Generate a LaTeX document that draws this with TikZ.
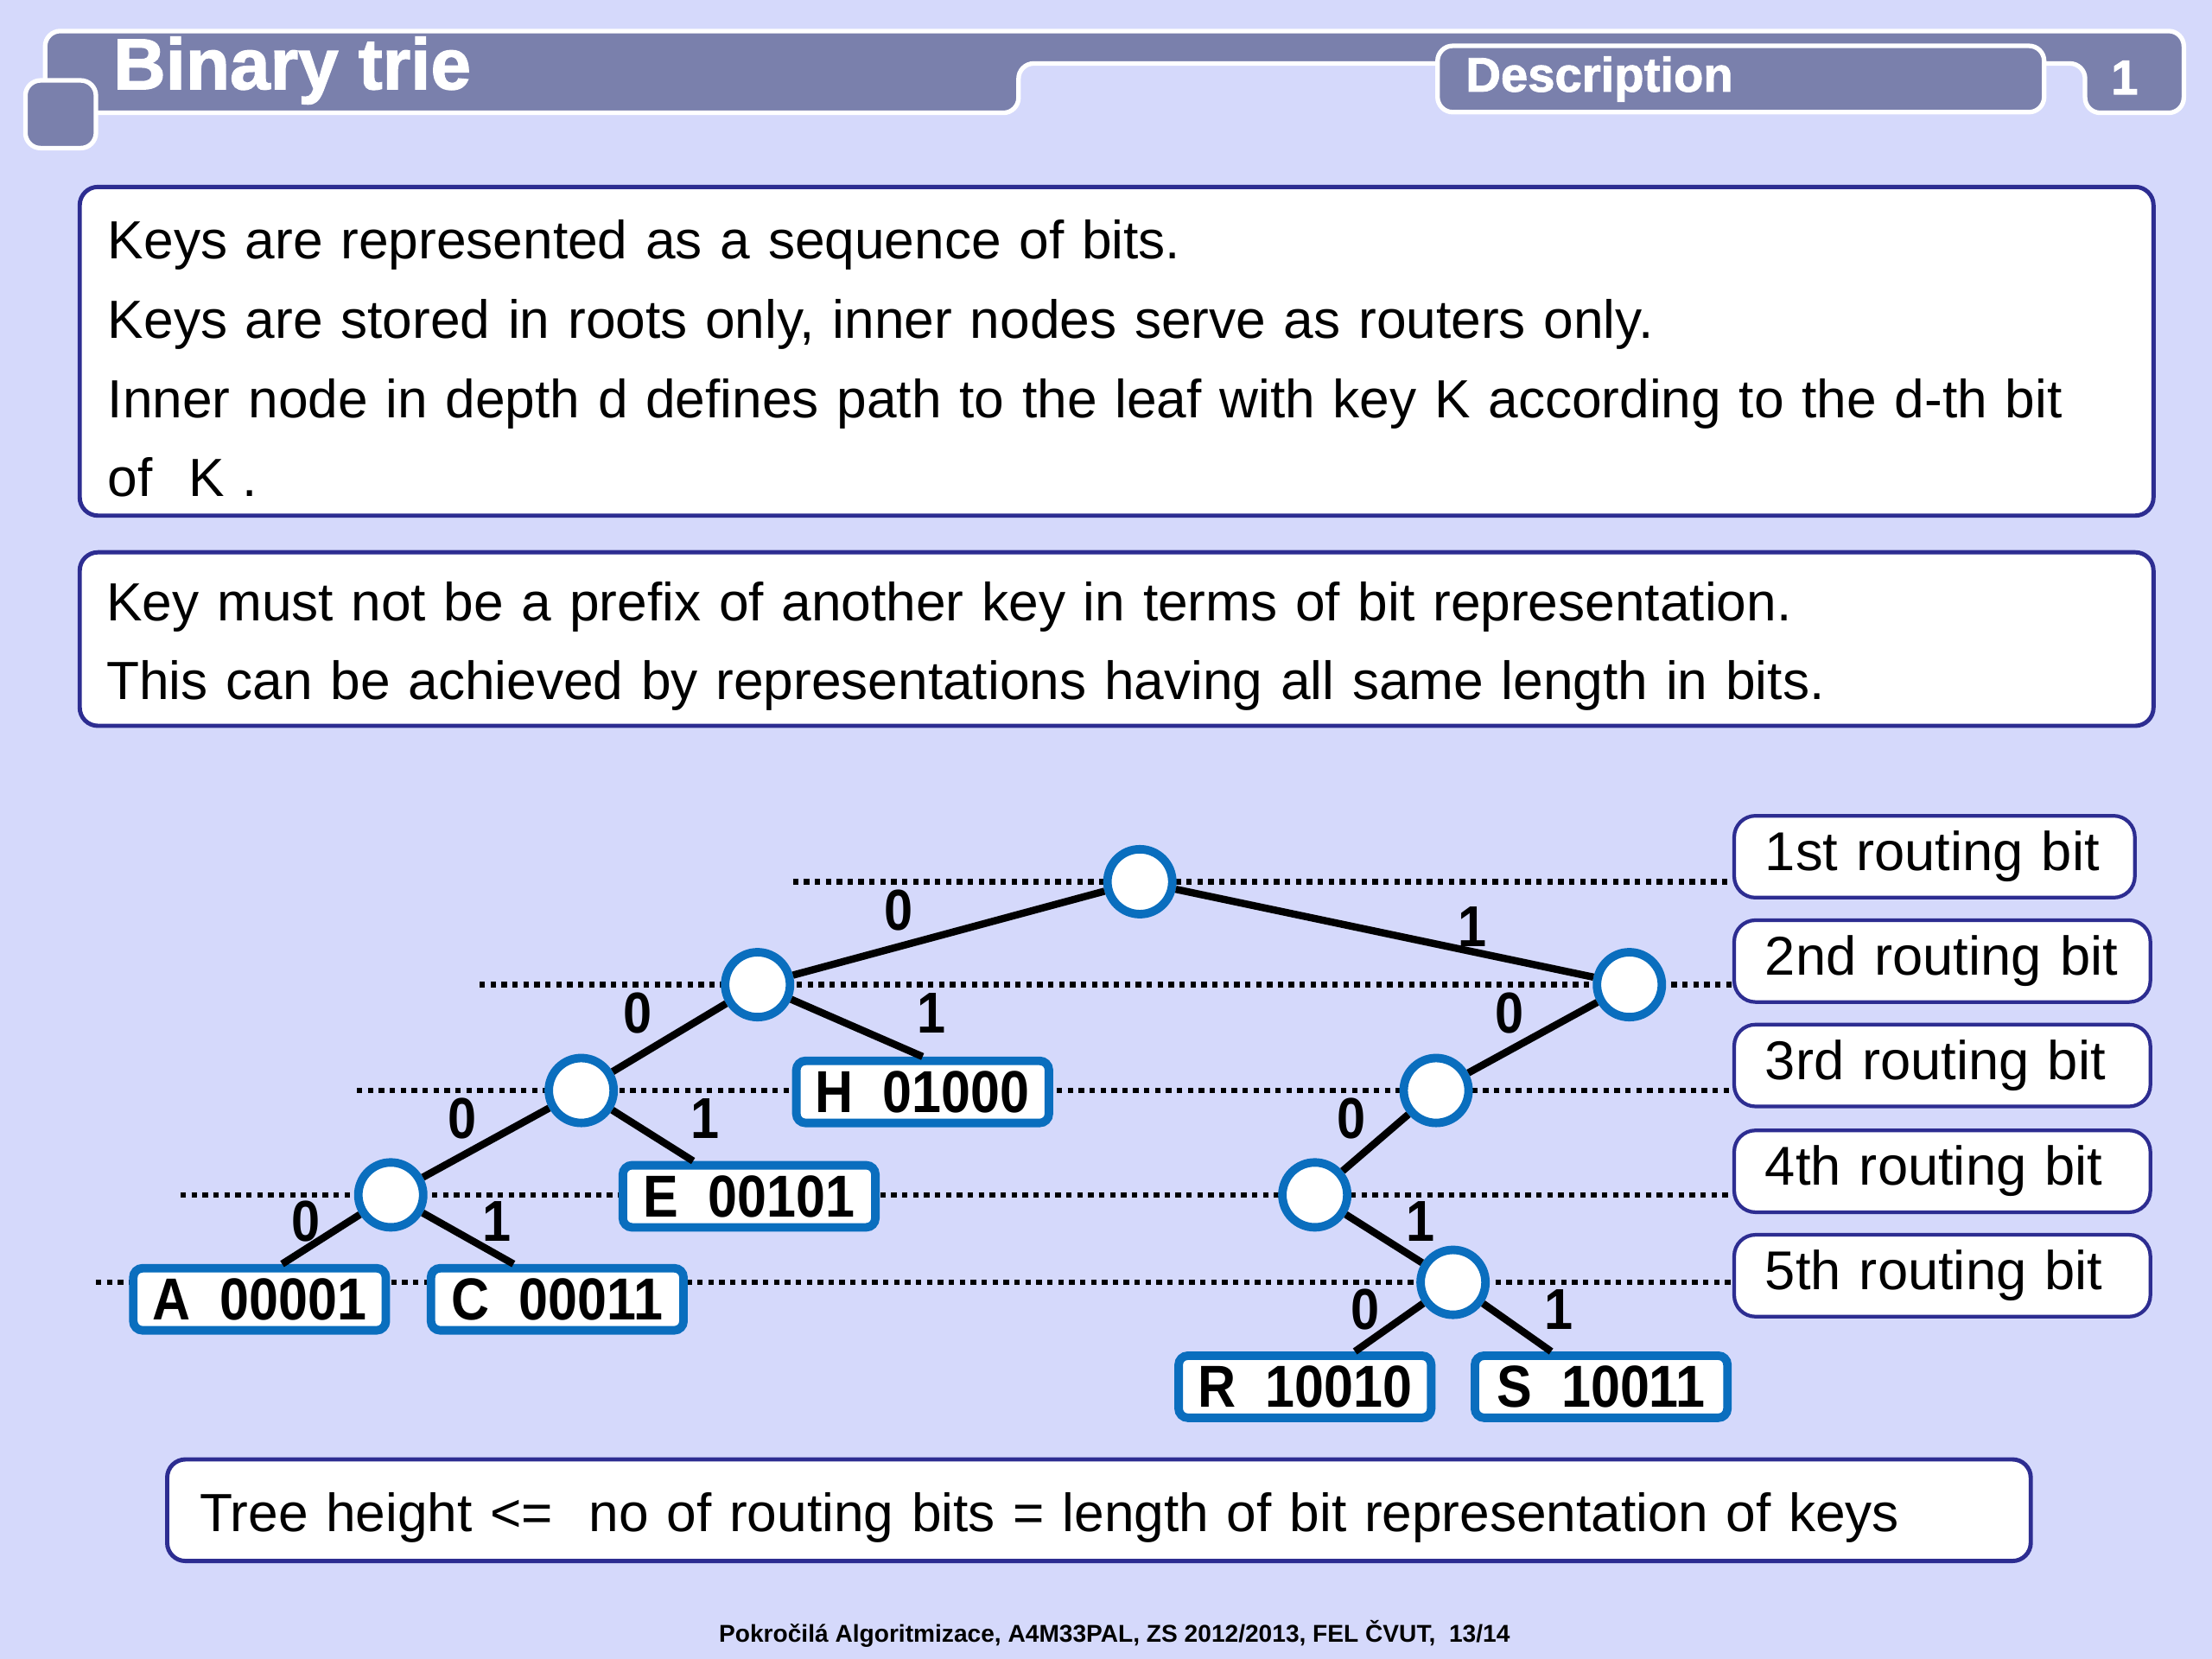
\documentclass[tikz,border=0pt]{standalone}
\usepackage{fontspec}
\setmainfont{Liberation Sans}
\newfontfamily\narrowsans[FakeStretch=0.89]{Liberation Sans}
\newfontfamily\heavysans[FakeBold=1.6]{Liberation Sans Bold}
\usetikzlibrary{positioning}

\definecolor{slidebg}{RGB}{213,217,251}
\definecolor{barfill}{RGB}{122,128,172}
\definecolor{frameblue}{RGB}{45,45,145}
\definecolor{nodeblue}{RGB}{10,110,190}
\newcommand{\dpx}{0.4645pt}
\newcommand{\topstrut}{\rule{0pt}{17.6pt}}

\begin{document}
\begin{tikzpicture}[x=\dpx,y=-\dpx,
 hdr/.style={fill=barfill,draw=white,line width=1.5pt,rounded corners=5pt},
 hdrtext/.style={text=white,font=\heavysans\fontsize{16}{16}\selectfont},
 txtbox/.style={draw=frameblue,fill=white,line width=1.4pt,rounded corners=6pt,
 anchor=north west,inner sep=0pt,align=left,font=\fontsize{17.7}{26.1}\selectfont},
 rbit/.style={draw=frameblue,fill=white,line width=1.2pt,rounded corners=7pt,
 anchor=north west,inner sep=0pt,align=left,minimum height=58*\dpx,
 font=\fontsize{18}{18}\selectfont},
 router/.style={circle,draw=nodeblue,fill=white,line width=2.8pt,
 minimum size=46*\dpx,inner sep=0pt},
 keyleaf/.style={draw=nodeblue,fill=white,line width=2.8pt,rounded corners=3pt,
 minimum width=179*\dpx,minimum height=44*\dpx,inner sep=0pt,
 font=\narrowsans\fontsize{19.5}{19.5}\bfseries\selectfont},
 bitline/.style={line width=1.8pt,dash pattern=on 1.8pt off 1.8pt},
 edge/.style={line width=2.4pt},
 bitlabel/.style={font=\narrowsans\fontsize{19}{19}\bfseries\selectfont,inner sep=0pt}]
\fill[slidebg] (0,0) rectangle (1568,1176);

% title bar
\draw[hdr] (32,22) -- (1548,22) -- (1548,80) -- (1478,80) -- (1478,45)
 -- (722,45) -- (722,80) -- (32,80) -- cycle;
\draw[hdr] (18,57) rectangle (68,105);
\node[hdrtext,font=\heavysans\fontsize{23.8}{23.8}\selectfont,anchor=west,inner sep=0pt] (title) at (80,50) {Binary trie};
\node[hdr,hdrtext,minimum width=430*\dpx,minimum height=47*\dpx,text width=390*\dpx,
 align=left,inner sep=0pt] (desc) at (1234,56) {Description};
\node[hdrtext] (pageno) at (1506,55) {1};

% text boxes
\node[txtbox,minimum width=1470*\dpx,minimum height=233*\dpx,text width=1430*\dpx] (keys) at (55,131)
 {\topstrut Keys are represented as a sequence of bits.\\
 Keys are stored in roots only, inner nodes serve as routers only.\\
 Inner node in depth d defines path to the leaf with key K according to the d-th bit\\
 of\ \ K .};
\node[txtbox,minimum width=1470*\dpx,minimum height=123*\dpx,text width=1432*\dpx] (prefix) at (55,390)
 {\topstrut Key must not be a prefix of another key in terms of bit representation.\\
 This can be achieved by representations having all same length in bits.};
\node[txtbox,minimum width=1321*\dpx,minimum height=72*\dpx,text width=1275*\dpx] (height) at (117,1033)
 {\topstrut Tree height <=\ \ no of routing bits = length of bit representation of keys};

% routing bits
\node[rbit,minimum width=284*\dpx,text width=240*\dpx] (rb1) at (1228,577) {1st routing bit};
\node[rbit,minimum width=295*\dpx,text width=251*\dpx] (rb2) at (1228,651) {2nd routing bit};
\node[rbit,minimum width=295*\dpx,text width=251*\dpx] (rb3) at (1228,725) {3rd routing bit};
\node[rbit,minimum width=295*\dpx,text width=251*\dpx] (rb4) at (1228,800) {4th routing bit};
\node[rbit,minimum width=295*\dpx,text width=251*\dpx] (rb5) at (1228,874) {5th routing bit};

\coordinate (d1) at (562,625);
\coordinate (d2) at (340,698);
\coordinate (d3) at (253,773);
\coordinate (d4) at (128,847);
\coordinate (d5) at (68,909);
\foreach \i in {1,...,5}
 \draw[bitline] (d\i) -- (d\i -| rb\i.west);

% trie
\node[router] (root) at (808,625) {};
\node[router] (n0) at (537,698) {};
\node[router] (n00) at (412,773) {};
\node[router] (n000) at (277,847) {};
\node[router] (n1) at (1155,698) {};
\node[router] (n10) at (1018,773) {};
\node[router] (n100) at (932,847) {};
\node[router] (n1001) at (1030,909) {};

\node[keyleaf] (lA) at (184,921) {A~~00001};
\node[keyleaf] (lC) at (395,921) {C~~00011};
\node[keyleaf] (lE) at (531,848) {E~~00101};
\node[keyleaf] (lH) at (654,774) {H~~01000};
\node[keyleaf] (lR) at (925,983) {R~~10010};
\node[keyleaf] (lS) at (1135,983) {S~~10011};

\draw[edge] (root) -- (n0);
\draw[edge] (root) -- (n1);
\draw[edge] (n0) -- (n00);
\draw[edge] (n0) -- (lH.north);
\draw[edge] (n00) -- (n000);
\draw[edge] (n00) -- (lE);
\draw[edge] (n000) -- ([xshift=16*\dpx]lA.north);
\draw[edge] (n000) -- ([xshift=-31*\dpx]lC.north);
\draw[edge] (n1) -- (n10);
\draw[edge] (n10) -- (n100);
\draw[edge] (n100) -- (n1001);
\draw[edge] (n1001) -- (lR);
\draw[edge] (n1001) -- (lS);

\node[bitlabel] at (637,645) {0};
\node[bitlabel] at (1044,657) {1};
\node[bitlabel] at (452,718) {0};
\node[bitlabel] at (660,718) {1};
\node[bitlabel] at (328,793) {0};
\node[bitlabel] at (500,793) {1};
\node[bitlabel] at (217,866) {0};
\node[bitlabel] at (352,866) {1};
\node[bitlabel] at (1070,718) {0};
\node[bitlabel] at (958,793) {0};
\node[bitlabel] at (1007,866) {1};
\node[bitlabel] at (968,928) {0};
\node[bitlabel] at (1105,928) {1};

\node[font=\fontsize{8}{8}\bfseries\selectfont] (foot) at (790,1158)
 {Pokročilá Algoritmizace, A4M33PAL, ZS 2012/2013, FEL ČVUT,\ \ 13/14};
\end{tikzpicture}
\end{document}
